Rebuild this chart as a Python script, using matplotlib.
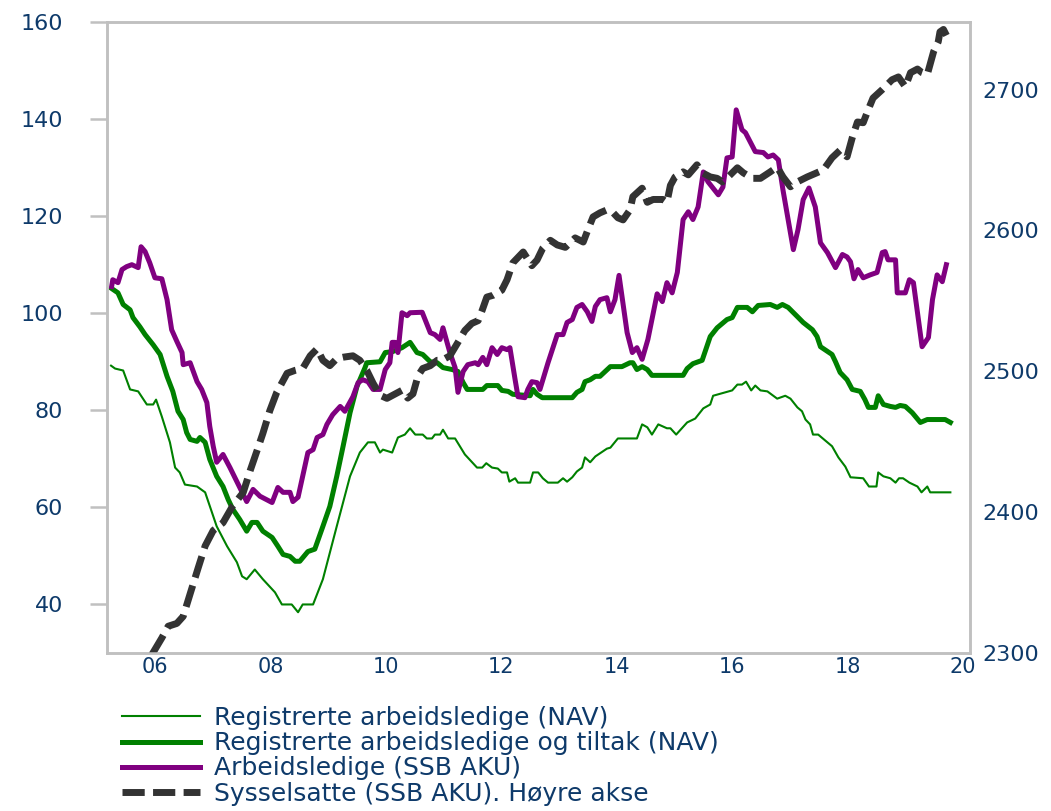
import matplotlib
matplotlib.use("Agg")
import matplotlib.pyplot as plt
from matplotlib.lines import Line2D

# Registrerte arbeidsledige (NAV), venstre akse
reg_x = [2005.24, 2005.31, 2005.45, 2005.57, 2005.71, 2005.86, 2005.97, 2006.02, 2006.12, 2006.26,
         2006.35, 2006.43, 2006.52, 2006.73, 2006.87, 2007.07, 2007.25, 2007.42, 2007.51, 2007.59,
         2007.73, 2007.87, 2008.08, 2008.20, 2008.37, 2008.48, 2008.56, 2008.74, 2008.91, 2009.15,
         2009.38, 2009.55, 2009.69, 2009.81, 2009.90, 2009.95, 2010.11, 2010.21, 2010.33, 2010.42,
         2010.51, 2010.64, 2010.71, 2010.80, 2010.85, 2010.94, 2010.99, 2011.08, 2011.20, 2011.37,
         2011.58, 2011.67, 2011.74, 2011.84, 2011.94, 2012.01, 2012.10, 2012.14, 2012.24, 2012.29,
         2012.50, 2012.55, 2012.64, 2012.72, 2012.81, 2012.98, 2013.07, 2013.14, 2013.23, 2013.31,
         2013.40, 2013.45, 2013.54, 2013.63, 2013.83, 2013.89, 2014.02, 2014.35, 2014.44, 2014.53,
         2014.61, 2014.72, 2014.87, 2014.93, 2015.03, 2015.22, 2015.36, 2015.50, 2015.62, 2015.67,
         2015.76, 2016.00, 2016.09, 2016.17, 2016.24, 2016.33, 2016.40, 2016.49, 2016.61, 2016.78,
         2016.92, 2017.01, 2017.13, 2017.21, 2017.27, 2017.35, 2017.40, 2017.49, 2017.73, 2017.84,
         2017.96, 2018.05, 2018.27, 2018.37, 2018.50, 2018.53, 2018.62, 2018.74, 2018.83, 2018.89,
         2018.96, 2019.07, 2019.21, 2019.28, 2019.38, 2019.43, 2019.78]
reg_y = [89.2, 88.6, 88.2, 84.3, 83.9, 81.2, 81.2, 82.2, 78.7, 73.4,
         68.2, 67.2, 64.7, 64.3, 63.1, 56.1, 52.0, 48.7, 45.8, 45.2,
         47.2, 45.2, 42.5, 40.0, 40.0, 38.4, 40.0, 40.0, 45.2, 56.1,
         66.4, 71.3, 73.4, 73.4, 71.3, 71.9, 71.3, 74.4, 75.0, 76.3,
         75.0, 75.0, 74.2, 74.2, 75.0, 75.0, 76.0, 74.2, 74.2, 70.9,
         68.2, 68.2, 69.1, 68.2, 68.0, 67.2, 67.2, 65.3, 66.0, 65.1,
         65.1, 67.2, 67.2, 66.0, 65.1, 65.1, 66.0, 65.3, 66.2, 67.4,
         68.2, 70.3, 69.3, 70.5, 72.1, 72.3, 74.2, 74.2, 77.1, 76.5,
         75.0, 77.1, 76.3, 76.3, 75.0, 77.5, 78.3, 80.4, 81.2, 83.0,
         83.3, 84.1, 85.3, 85.3, 85.9, 84.1, 85.1, 84.1, 83.9, 82.4,
         83.0, 82.4, 80.6, 79.8, 78.1, 77.1, 75.0, 75.0, 72.6, 70.3,
         68.4, 66.2, 66.0, 64.3, 64.3, 67.2, 66.4, 66.0, 65.1, 66.0,
         66.0, 65.1, 64.3, 63.1, 64.3, 63.1, 63.1]

# Registrerte arbeidsledige og tiltak (NAV), venstre akse
tilt_x = [2005.25, 2005.36, 2005.45, 2005.57, 2005.62, 2005.74, 2005.83, 2005.97, 2006.09, 2006.21,
          2006.31, 2006.40, 2006.49, 2006.55, 2006.61, 2006.73, 2006.78, 2006.87, 2006.95, 2007.07,
          2007.18, 2007.27, 2007.35, 2007.47, 2007.59, 2007.68, 2007.77, 2007.87, 2008.03, 2008.13,
          2008.22, 2008.34, 2008.43, 2008.51, 2008.65, 2008.77, 2008.91, 2009.03, 2009.15, 2009.26,
          2009.38, 2009.50, 2009.64, 2009.67, 2009.90, 2009.99, 2010.12, 2010.28, 2010.42, 2010.54,
          2010.64, 2010.77, 2010.89, 2010.99, 2011.15, 2011.25, 2011.34, 2011.41, 2011.68, 2011.75,
          2011.94, 2012.01, 2012.12, 2012.20, 2012.50, 2012.55, 2012.62, 2012.71, 2013.23, 2013.31,
          2013.40, 2013.45, 2013.54, 2013.63, 2013.71, 2013.89, 2014.09, 2014.23, 2014.28, 2014.35,
          2014.44, 2014.53, 2014.61, 2015.15, 2015.22, 2015.32, 2015.48, 2015.62, 2015.74, 2015.91,
          2016.00, 2016.09, 2016.26, 2016.35, 2016.45, 2016.66, 2016.78, 2016.87, 2016.97, 2017.13,
          2017.23, 2017.39, 2017.47, 2017.53, 2017.73, 2017.79, 2017.87, 2017.99, 2018.08, 2018.22,
          2018.30, 2018.36, 2018.48, 2018.53, 2018.62, 2018.74, 2018.83, 2018.91, 2019.00, 2019.12,
          2019.26, 2019.38, 2019.69, 2019.78]
tilt_y = [105.1, 104.2, 101.8, 100.7, 99.1, 97.2, 95.6, 93.5, 91.5, 87.0,
          83.9, 79.8, 78.1, 75.4, 74.0, 73.6, 74.4, 73.4, 69.9, 66.4,
          64.3, 61.6, 59.6, 57.5, 55.1, 56.9, 56.9, 55.1, 53.8, 52.0,
          50.3, 49.9, 48.9, 48.9, 50.9, 51.4, 56.1, 60.2, 66.4, 72.6,
          79.5, 84.9, 88.8, 89.8, 90.0, 91.9, 92.1, 92.9, 94.0, 91.9,
          91.5, 90.0, 89.8, 88.8, 88.4, 88.0, 85.7, 84.3, 84.3, 85.1,
          85.1, 84.1, 83.9, 83.3, 83.0, 84.3, 83.3, 82.6, 82.6, 83.7,
          84.3, 85.9, 86.3, 87.0, 87.0, 89.0, 89.0, 89.8, 89.8, 88.4,
          89.0, 88.4, 87.2, 87.2, 88.6, 89.6, 90.3, 95.2, 97.0, 98.7,
          99.1, 101.2, 101.2, 100.3, 101.6, 101.8, 101.2, 101.8, 101.2, 99.3,
          98.1, 96.6, 95.2, 93.1, 91.5, 90.0, 87.8, 86.3, 84.3, 83.9,
          82.2, 80.6, 80.6, 83.0, 81.2, 80.8, 80.6, 81.0, 80.8, 79.5,
          77.5, 78.1, 78.1, 77.5]

# Arbeidsledige (SSB AKU), venstre akse
aku_x = [2005.25, 2005.27, 2005.36, 2005.43, 2005.51, 2005.60, 2005.71, 2005.76, 2005.83, 2005.91,
         2006.00, 2006.12, 2006.21, 2006.29, 2006.38, 2006.47, 2006.49, 2006.61, 2006.73, 2006.81,
         2006.90, 2006.95, 2007.01, 2007.07, 2007.18, 2007.30, 2007.42, 2007.51, 2007.59, 2007.70,
         2007.82, 2008.03, 2008.13, 2008.22, 2008.34, 2008.39, 2008.48, 2008.56, 2008.65, 2008.74,
         2008.81, 2008.91, 2008.98, 2009.08, 2009.21, 2009.29, 2009.43, 2009.52, 2009.60, 2009.69,
         2009.78, 2009.90, 2009.99, 2010.07, 2010.11, 2010.16, 2010.21, 2010.28, 2010.37, 2010.42,
         2010.63, 2010.77, 2010.85, 2010.94, 2010.99, 2011.11, 2011.20, 2011.25, 2011.34, 2011.42,
         2011.55, 2011.60, 2011.68, 2011.75, 2011.84, 2011.93, 2012.01, 2012.10, 2012.15, 2012.24,
         2012.29, 2012.41, 2012.46, 2012.53, 2012.62, 2012.67, 2012.81, 2012.97, 2013.07, 2013.14,
         2013.23, 2013.31, 2013.40, 2013.49, 2013.57, 2013.63, 2013.71, 2013.83, 2013.89, 2013.97,
         2014.04, 2014.18, 2014.27, 2014.35, 2014.44, 2014.54, 2014.70, 2014.79, 2014.87, 2014.96,
         2015.05, 2015.15, 2015.24, 2015.32, 2015.41, 2015.50, 2015.58, 2015.76, 2015.84, 2015.91,
         2016.00, 2016.07, 2016.17, 2016.23, 2016.40, 2016.54, 2016.62, 2016.71, 2016.80, 2016.88,
         2017.06, 2017.14, 2017.23, 2017.33, 2017.44, 2017.53, 2017.65, 2017.79, 2017.91, 2017.99,
         2018.05, 2018.11, 2018.18, 2018.27, 2018.39, 2018.51, 2018.60, 2018.65, 2018.70, 2018.83,
         2018.86, 2019.00, 2019.07, 2019.14, 2019.29, 2019.40, 2019.47, 2019.55, 2019.64, 2019.71]
aku_y = [105.5, 106.9, 106.3, 109.0, 109.6, 110.0, 109.4, 113.7, 112.7, 110.4,
         107.3, 107.1, 102.8, 96.6, 94.2, 91.9, 89.4, 89.8, 85.9, 84.3,
         81.6, 76.7, 72.6, 69.3, 70.9, 68.2, 65.3, 63.1, 61.2, 63.7,
         62.3, 61.0, 64.1, 63.1, 63.1, 61.2, 62.1, 66.4, 71.3, 71.9,
         74.4, 75.0, 77.1, 79.1, 80.8, 79.8, 82.8, 85.7, 86.3, 85.9,
         84.3, 84.3, 88.4, 89.8, 94.0, 94.0, 91.9, 100.1, 99.5, 100.1,
         100.2, 96.0, 95.6, 94.6, 97.0, 91.9, 88.8, 83.7, 88.0, 89.4,
         89.8, 89.4, 90.9, 89.4, 92.9, 91.5, 92.9, 92.5, 92.9, 86.3,
         82.8, 82.6, 84.3, 85.9, 85.7, 84.3, 89.8, 95.6, 95.6, 98.1,
         98.7, 101.2, 101.8, 100.3, 98.3, 101.4, 102.8, 103.2, 100.3, 102.8,
         107.8, 96.0, 91.9, 92.9, 90.5, 94.6, 104.0, 102.4, 106.3, 104.2,
         108.4, 119.3, 120.9, 119.3, 121.9, 129.1, 127.1, 124.4, 126.0, 132.0,
         132.2, 141.9, 137.8, 137.2, 133.3, 133.1, 132.2, 132.6, 131.6, 125.4,
         113.1, 117.2, 123.4, 125.8, 121.9, 114.5, 112.5, 109.4, 112.1, 111.6,
         110.6, 107.1, 109.0, 107.3, 107.9, 108.4, 112.5, 112.7, 111.0, 111.0,
         104.2, 104.2, 106.9, 106.3, 93.1, 95.0, 102.8, 107.9, 106.5, 110.0]

# Sysselsatte (SSB AKU), høyre akse
sys_x = [2005.95, 2006.12, 2006.23, 2006.38, 2006.49, 2006.61, 2006.75, 2006.87, 2007.01, 2007.18,
         2007.35, 2007.53, 2007.65, 2007.77, 2007.87, 2007.99, 2008.11, 2008.29, 2008.43, 2008.56,
         2008.69, 2008.81, 2008.91, 2009.03, 2009.15, 2009.26, 2009.43, 2009.55, 2009.67, 2009.78,
         2009.90, 2010.02, 2010.12, 2010.28, 2010.38, 2010.47, 2010.56, 2010.64, 2010.77, 2010.89,
         2010.97, 2011.11, 2011.25, 2011.37, 2011.49, 2011.60, 2011.67, 2011.75, 2011.86, 2012.01,
         2012.10, 2012.20, 2012.38, 2012.53, 2012.62, 2012.72, 2012.85, 2012.97, 2013.11, 2013.28,
         2013.42, 2013.50, 2013.59, 2013.71, 2013.83, 2013.94, 2014.02, 2014.11, 2014.23, 2014.28,
         2014.44, 2014.53, 2014.63, 2014.80, 2014.87, 2014.93, 2015.01, 2015.15, 2015.24, 2015.39,
         2015.48, 2015.62, 2015.74, 2015.83, 2015.93, 2016.09, 2016.19, 2016.35, 2016.49, 2016.66,
         2016.78, 2016.88, 2017.01, 2017.13, 2017.30, 2017.47, 2017.58, 2017.73, 2017.87, 2017.99,
         2018.08, 2018.17, 2018.27, 2018.34, 2018.44, 2018.60, 2018.77, 2018.88, 2019.00, 2019.09,
         2019.21, 2019.29, 2019.38, 2019.49, 2019.57, 2019.60, 2019.66, 2019.73]
sys_y = [2299, 2310.7, 2319, 2321, 2326, 2342, 2360.5, 2376, 2387, 2392.5,
         2404.6, 2414, 2429.5, 2443.8, 2455.9, 2472, 2485, 2498.6, 2500.7, 2502,
         2511, 2516, 2507.8, 2504, 2509, 2510, 2511, 2507.8, 2500.7, 2491.5,
         2483, 2480.8, 2483, 2486.5, 2481, 2484, 2497, 2502, 2504, 2507.8,
         2507.8, 2511, 2520.6, 2529, 2534, 2536, 2543.4, 2552.7, 2554, 2557.6,
         2565, 2577, 2584.7, 2575, 2579, 2587.5, 2593, 2589.7, 2588, 2594.7,
         2591.8, 2600.4, 2609.6, 2612.5, 2614.6, 2612.5, 2609, 2607.5, 2614.6, 2624,
         2630, 2620, 2622, 2622, 2620, 2632, 2638, 2641.6, 2639.5, 2646.6,
         2641, 2638, 2637, 2634.5, 2638, 2644.5, 2641, 2637, 2637, 2641.6,
         2645, 2638, 2631, 2634.5, 2638, 2641, 2643, 2651.6, 2657, 2652.3,
         2665.8, 2677, 2676.5, 2684, 2694, 2700, 2707, 2709, 2702, 2712,
         2714.6, 2712, 2710.7, 2727, 2734, 2741, 2742.7, 2737]

years = [2006, 2008, 2010, 2012, 2014, 2016, 2018, 2020]
year_labels = ["06", "08", "10", "12", "14", "16", "18", "20"]
left_ticks = [40, 60, 80, 100, 120, 140, 160]
right_ticks = [2300, 2400, 2500, 2600, 2700]

labels = ["Registrerte arbeidsledige (NAV)",
          "Registrerte arbeidsledige og tiltak (NAV)",
          "Arbeidsledige (SSB AKU)",
          "Sysselsatte (SSB AKU). Høyre akse"]

navy = "#0e3a6a"
frame = "#c0c0c0"
green = "#008000"
purple = "#800080"
dark = "#333333"

plt.rcParams["font.family"] = "DejaVu Sans"

fig = plt.figure(figsize=(10.51, 8.11), dpi=100)
ax = fig.add_axes([107 / 1051, 1 - 653 / 811, 863 / 1051, 631 / 811])
ax2 = ax.twinx()

ax.plot(reg_x, reg_y, color=green, lw=1.5)
ax.plot(tilt_x, tilt_y, color=green, lw=3.6)
ax.plot(aku_x, aku_y, color=purple, lw=3.6)
ax2.plot(sys_x, sys_y, color=dark, lw=5, dashes=(3.2, 1.2), dash_capstyle="butt")

ax.set_xlim(2005.17, 2020.12)
ax.set_ylim(30, 160)
ax2.set_ylim(2300, 2748)

ax.set_xticks(years)
ax.set_xticklabels(year_labels)
ax.set_yticks(left_ticks)
ax2.set_yticks(right_ticks)

ax.tick_params(axis="x", which="major", length=0, pad=3, labelsize=15, labelcolor=navy)
ax.tick_params(axis="y", which="major", left=True, length=12, width=1.8, color=frame,
               direction="out", pad=19.5, labelsize=16, labelcolor=navy)
ax2.tick_params(axis="y", which="major", length=0, pad=9, labelsize=16, labelcolor=navy)

for a in (ax, ax2):
    for s in a.spines.values():
        s.set_color(frame)
        s.set_linewidth(1.8)

handles = [Line2D([], [], color=green, lw=1.5),
           Line2D([], [], color=green, lw=3.6),
           Line2D([], [], color=purple, lw=3.6),
           Line2D([], [], color=dark, lw=5, dashes=(3.2, 1.2), dash_capstyle="butt")]
fig.legend(handles, labels, loc="upper left", bbox_to_anchor=(122 / 1051, 1 - 706 / 811),
           frameon=False, fontsize=18, labelcolor=navy, handlelength=3.1, handletextpad=0.6,
           labelspacing=0.05, borderpad=0, borderaxespad=0)

fig.savefig("out.png", dpi=100)
